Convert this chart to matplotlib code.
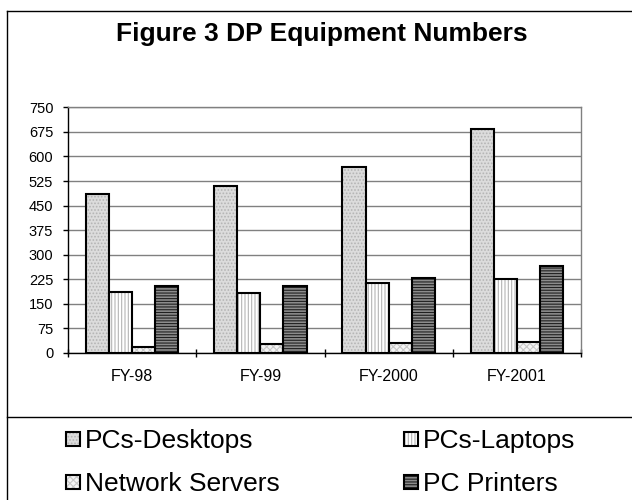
import matplotlib
matplotlib.use("Agg")
import matplotlib.pyplot as plt
from matplotlib.patches import Rectangle
from matplotlib.lines import Line2D
import numpy as np

plt.rcParams["font.family"] = ["Liberation Sans", "DejaVu Sans"]
plt.rcParams["hatch.linewidth"] = 0.8

# Data
years = ["FY-98", "FY-99", "FY-2000", "FY-2001"]
series_names = ["PCs-Desktops", "PCs-Laptops", "Network Servers", "PC Printers"]
desktops = [485, 509, 567, 683]
laptops = [187, 184, 214, 226]
servers = [17, 27, 30, 33]
printers = [205, 206, 230, 265]
y_ticks = [0, 75, 150, 225, 300, 375, 450, 525, 600, 675, 750]

# Fill styles: (face colour, hatch, hatch colour)
styles = [
    ("#dcdcdc", ".....", "#b4b4b4"),
    ("#ffffff", "|||||", "#b4b4b4"),
    ("#f4f4f4", "xxxxx", "#c8c8c8"),
    ("#8c8c8c", "------", "#202020"),
]

W, H = 632, 500
fig = plt.figure(figsize=(W / 100, H / 100), dpi=100)


def fx(px):
    return px / W


def fy(py):
    return 1 - py / H


ax = fig.add_axes([fx(68), fy(353), fx(581) - fx(68), fy(107.3) - fy(353)])

x = np.arange(len(years))
width = 0.18
for i, vals in enumerate([desktops, laptops, servers, printers]):
    face, hatch, hcol = styles[i]
    pos = x + (i - 1.5) * width
    ax.bar(pos, vals, width, color=face, edgecolor=hcol, hatch=hatch,
           linewidth=0, zorder=3)
    ax.bar(pos, vals, width, fill=False, edgecolor="black", linewidth=1.5,
           zorder=4)

ax.set_xlim(-0.5, len(years) - 0.5)
ax.set_ylim(0, 750)
ax.set_yticks(y_ticks)
ax.set_yticklabels([str(v) for v in y_ticks], fontsize=10.5)
ax.yaxis.grid(True, color="#808080", linewidth=1.0)
ax.set_axisbelow(True)

ax.set_xticks(x)
ax.set_xticklabels(years, fontsize=11.5)
ax.set_xticks(np.arange(-0.5, len(years)), minor=True)
ax.tick_params(axis="x", which="major", length=0, pad=11.5)
ax.tick_params(axis="x", which="minor", length=6, direction="inout",
               width=1, color="black")
ax.tick_params(axis="y", length=3.6, direction="out", width=1, pad=7,
               color="black")

for side in ("top", "right"):
    ax.spines[side].set_color("#808080")
    ax.spines[side].set_linewidth(1.0)
for side in ("left", "bottom"):
    ax.spines[side].set_color("black")
    ax.spines[side].set_linewidth(1.0)

# Title
fig.text(fx(322), fy(40.7), "Figure 3 DP Equipment Numbers", ha="center",
         va="baseline", fontsize=19, fontweight="bold")

# Outer frame and legend separator
for xs, ys in [((7, 7), (10.7, 500)), ((7, 632), (10.7, 10.7)),
               ((7, 632), (417, 417))]:
    fig.add_artist(Line2D([fx(v) for v in xs], [fy(v) for v in ys],
                          transform=fig.transFigure, color="black", lw=1.0))

# Legend
legend_slots = [(66, 432), (404, 432), (66, 475), (404, 475)]
for i, (lx, ly) in enumerate(legend_slots):
    face, hatch, hcol = styles[i]
    fig.add_artist(Rectangle((fx(lx), fy(ly + 14)), 14 / W, 14 / H,
                             transform=fig.transFigure, facecolor=face,
                             edgecolor=hcol, hatch=hatch, linewidth=0))
    fig.add_artist(Rectangle((fx(lx), fy(ly + 14)), 14 / W, 14 / H,
                             transform=fig.transFigure, fill=False,
                             edgecolor="black", linewidth=1.5))
    fig.text(fx(lx + 19), fy(ly + 16), series_names[i], ha="left",
             va="baseline", fontsize=19)

fig.savefig("out.png", dpi=100)
